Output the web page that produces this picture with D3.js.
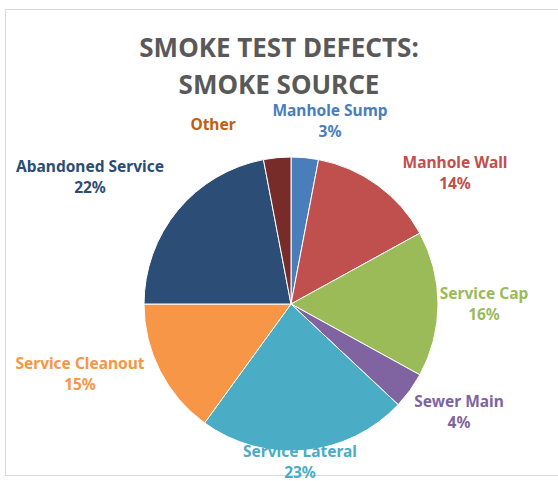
<!DOCTYPE html>
<html><head><meta charset="utf-8">
<script src="https://cdn.jsdelivr.net/npm/d3@7"></script>
<style>body{margin:0;background:#fff}</style>
</head><body>
<svg width="558" height="481"></svg>
<script>
const categories = ["Manhole Sump", "Manhole Wall", "Service Cap", "Sewer Main", "Service Lateral", "Service Cleanout", "Abandoned Service", "Other"];
const values = [3, 14, 16, 4, 23, 15, 22, 3];
const showPct = [true, true, true, true, true, true, true, false];
const colors = ["#4a7ebb", "#c0504d", "#9bbb59", "#8064a2", "#4bacc6", "#f79646", "#2c4d75", "#772c2a"];
const labelColors = ["#4a7ebb", "#c0504d", "#9bbb59", "#8064a2", "#4bacc6", "#f79646", "#2c4d75", "#c0600f"];
// label anchor points (centre of first line)
const labelPos = [[330, 110], [455, 162], [484, 293], [459, 401], [300, 451], [80, 363], [90, 166], [213, 124]];

const svg = d3.select("svg");
svg.append("rect").attr("x", 5.5).attr("y", 9.5).attr("width", 560).attr("height", 466)
  .attr("fill", "none").attr("stroke", "#d9d9d9");

const title = svg.append("text").attr("text-anchor", "middle")
  .attr("font-family", "Noto Sans, sans-serif").attr("font-weight", "bold")
  .attr("font-size", 26).attr("fill", "#595959");
title.append("tspan").attr("x", 279).attr("y", 57).text("SMOKE TEST DEFECTS:");
title.append("tspan").attr("x", 279).attr("y", 94).text("SMOKE SOURCE");

const cx = 291, cy = 304, r = 147;
const pie = d3.pie().sort(null).value(d => d);
const arc = d3.arc().innerRadius(0).outerRadius(r);
const g = svg.append("g").attr("transform", `translate(${cx},${cy})`);
g.selectAll("path").data(pie(values)).enter().append("path")
  .attr("d", arc).attr("fill", (d, i) => colors[i])
  .attr("stroke", "#fff").attr("stroke-width", 1);

const total = d3.sum(values);
categories.forEach((c, i) => {
  const t = svg.append("text").attr("text-anchor", "middle")
    .attr("font-family", "Noto Sans, sans-serif").attr("font-weight", "bold")
    .attr("font-size", 15.5).attr("fill", labelColors[i]);
  t.append("tspan").attr("x", labelPos[i][0]).attr("y", labelPos[i][1] + 6).text(c);
  if (showPct[i]) t.append("tspan").attr("x", labelPos[i][0]).attr("y", labelPos[i][1] + 27)
    .text(Math.round(values[i] / total * 100) + "%");
});
</script>
</body></html>
